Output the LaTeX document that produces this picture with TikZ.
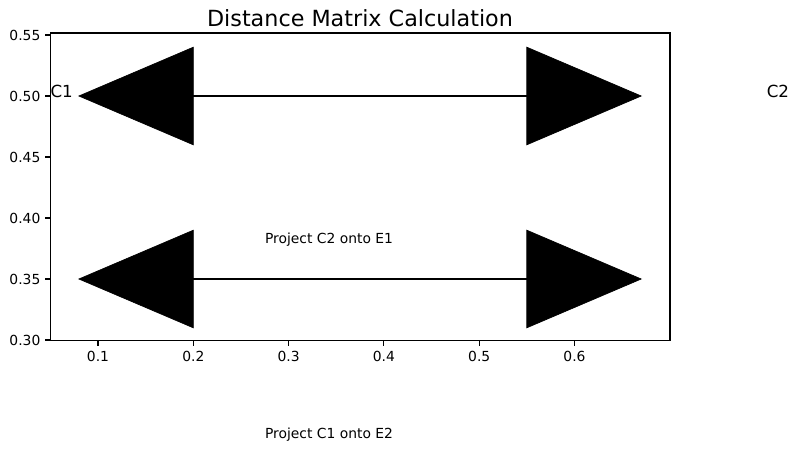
\documentclass[tikz,border=0pt]{standalone}
\usepackage{fontspec}
\setmainfont{DejaVu Sans}
\begin{document}
\begin{tikzpicture}[x=0.75pt,y=-0.75pt,
  ticklab/.style={font=\fontsize{10.4}{12}\selectfont, inner sep=0pt},
  annot/.style={font=\fontsize{10.4}{12}\selectfont, inner sep=0pt, anchor=base west},
  clab/.style={font=\fontsize{12.5}{14}\selectfont, inner sep=0pt, anchor=base west},
  shaft/.style={line width=1.9pt},
  head/.style={fill=black, draw=black, line width=0.5pt, line join=miter},
  spine/.style={line width=0.83pt},
  tick/.style={line width=0.83pt}]
\useasboundingbox (0,0) rectangle (802,450);
% axes
\coordinate (axNW) at (50.3,33);
\coordinate (axSE) at (670,340.7);
\draw[spine] (axNW) rectangle (axSE);
% x ticks
\foreach \v/\px in {0.1/98.0,0.2/193.3,0.3/288.6,0.4/383.9,0.5/479.2,0.6/574.5}{
  \draw[tick] (\px,340.7) -- (\px,345.6);
  \node[ticklab, anchor=north] at (\px,350.8) {\v};
}
% y ticks
\foreach \v/\py in {0.30/340,0.35/279,0.40/218,0.45/157,0.50/96,0.55/35}{
  \draw[tick] (50.3,\py) -- (45.4,\py);
  \node[ticklab, anchor=east] at (40.6,\py) {\v};
}
% title
\node[font=\fontsize{16.7}{19}\selectfont, inner sep=0pt, anchor=base] (title) at (360,26.5) {Distance Matrix Calculation};
% arrow 1
\coordinate (a1L) at (193.3,96);
\coordinate (a1R) at (526.8,96);
\coordinate (a1Ltip) at (78.9,96);
\coordinate (a1Rtip) at (641.2,96);
\draw[shaft] (a1L) -- (a1R);
\fill[head] (a1Ltip) -- (193.3,47.2) -- (193.3,144.8) -- cycle;
\fill[head] (a1Rtip) -- (526.8,47.2) -- (526.8,144.8) -- cycle;
% arrow 2
\coordinate (a2L) at (193.3,279);
\coordinate (a2R) at (526.8,279);
\coordinate (a2Ltip) at (78.9,279);
\coordinate (a2Rtip) at (641.2,279);
\draw[shaft] (a2L) -- (a2R);
\fill[head] (a2Ltip) -- (193.3,230.2) -- (193.3,327.8) -- cycle;
\fill[head] (a2Rtip) -- (526.8,230.2) -- (526.8,327.8) -- cycle;
% labels
\node[clab] (c1) at (50.3,97.3) {C1};
\node[clab] (c2) at (766.5,97.3) {C2};
\node[annot] (p1) at (264.8,243.3) {Project C2 onto E1};
\node[annot] (p2) at (264.8,438.4) {Project C1 onto E2};
\end{tikzpicture}
\end{document}
